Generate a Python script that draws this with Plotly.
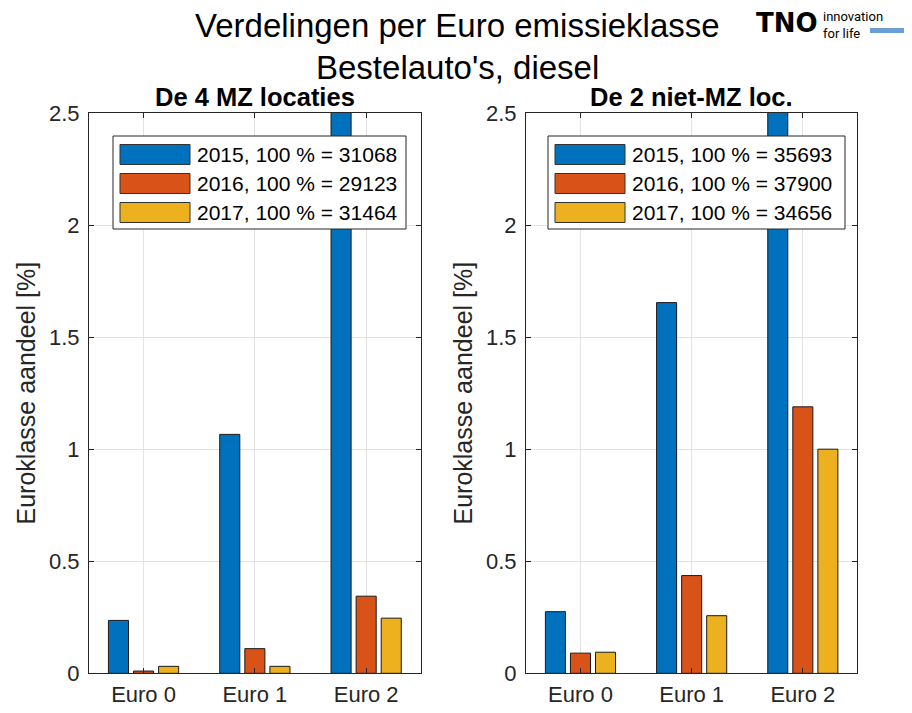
import plotly.graph_objects as go

# Page offset of the plot div (browser default body margin)
OFF = 8
W, H = 912 - OFF, 713 - OFF

categories = ["Euro 0", "Euro 1", "Euro 2"]
years = ["2015", "2016", "2017"]
colors = ["#0072BD", "#D95319", "#EDB120"]

# Panel 1: De 4 MZ locaties
mz_totals = [31068, 29123, 31464]
mz_2015 = [0.236, 1.066, 2.95]
mz_2016 = [0.010, 0.110, 0.344]
mz_2017 = [0.031, 0.031, 0.246]

# Panel 2: De 2 niet-MZ loc.
nmz_totals = [35693, 37900, 34656]
nmz_2015 = [0.275, 1.654, 3.10]
nmz_2016 = [0.090, 0.436, 1.189]
nmz_2017 = [0.094, 0.257, 1.000]

yticks = [0, 0.5, 1, 1.5, 2, 2.5]
ytick_text = ["0", "0.5", "1", "1.5", "2", "2.5"]

FONT = "Liberation Sans, Arial, Helvetica, sans-serif"
TXT = "#262626"

def px(x):
    return (x - OFF) / W

def py(y):
    return 1 - (y - OFF) / H

fig = go.Figure()

panels = [
    ("x", "y", [mz_2015, mz_2016, mz_2017], mz_totals),
    ("x2", "y2", [nmz_2015, nmz_2016, nmz_2017], nmz_totals),
]
for xa, ya, series, totals in panels:
    for yr, vals, col, tot in zip(years, series, colors, totals):
        fig.add_trace(go.Bar(
            x=categories, y=vals, name=f"{yr}, 100 % = {tot}",
            marker=dict(color=col, line=dict(color="#1a1a1a", width=1)),
            xaxis=xa, yaxis=ya, showlegend=False,
        ))

axis_common = dict(
    showline=True, linecolor=TXT, linewidth=1, mirror="allticks",
    ticks="inside", ticklen=5, tickcolor=TXT,
    showgrid=True, gridcolor="#e3e3e3", gridwidth=1,
    zeroline=False, automargin=False,
    tickfont=dict(family=FONT, size=22, color=TXT),
)

xd1 = [px(89), px(420.7)]
xd2 = [px(526), px(857.3)]
yd = [py(673.3), py(113)]

ytitle = dict(text="Euroklasse aandeel [%]", font=dict(family=FONT, size=25, color=TXT), standoff=6)

fig.update_layout(
    width=W, height=H,
    margin=dict(l=0, r=0, t=0, b=0, autoexpand=False),
    paper_bgcolor="white", plot_bgcolor="white",
    barmode="group", bargap=0.324, bargroupgap=0.2,
    font=dict(family=FONT, color=TXT),
    xaxis=dict(domain=xd1, anchor="y", range=[-0.49, 2.49], ticklabelstandoff=1, **axis_common),
    yaxis=dict(domain=yd, anchor="x", range=[0, 2.5], tickvals=yticks, ticktext=ytick_text,
               ticklabelstandoff=4, title=ytitle, **axis_common),
    xaxis2=dict(domain=xd2, anchor="y2", range=[-0.49, 2.49], ticklabelstandoff=1, **axis_common),
    yaxis2=dict(domain=yd, anchor="x2", range=[0, 2.5], tickvals=yticks, ticktext=ytick_text,
                ticklabelstandoff=4, title=ytitle, **axis_common),
)

annotations = []
shapes = []

# Main title
annotations.append(dict(x=px(457), y=py(25), xref="paper", yref="paper", showarrow=False,
                        text="Verdelingen per Euro emissieklasse", xanchor="center", yanchor="middle",
                        font=dict(family=FONT, size=33, color="#000000")))
annotations.append(dict(x=px(457), y=py(67), xref="paper", yref="paper", showarrow=False,
                        text="Bestelauto's, diesel", xanchor="center", yanchor="middle",
                        font=dict(family=FONT, size=33, color="#000000")))
# Subplot titles
annotations.append(dict(x=(xd1[0] + xd1[1]) / 2, y=py(96.5), xref="paper", yref="paper", showarrow=False,
                        text="<b>De 4 MZ locaties</b>", xanchor="center", yanchor="middle",
                        font=dict(family=FONT, size=25.5, color="#000000")))
annotations.append(dict(x=(xd2[0] + xd2[1]) / 2, y=py(96.5), xref="paper", yref="paper", showarrow=False,
                        text="<b>De 2 niet-MZ loc.</b>", xanchor="center", yanchor="middle",
                        font=dict(family=FONT, size=25.5, color="#000000")))

# Custom legends (MATLAB style)
for (bx0, bx1), totals in [((113, 406), mz_totals), ((548, 845), nmz_totals)]:
    shapes.append(dict(type="rect", xref="paper", yref="paper",
                       x0=px(bx0), x1=px(bx1), y0=py(229), y1=py(136),
                       line=dict(color=TXT, width=1), fillcolor="white", layer="above"))
    for i, (yr, col, tot) in enumerate(zip(years, colors, totals)):
        yc = 154.5 + 29 * i
        shapes.append(dict(type="rect", xref="paper", yref="paper",
                           x0=px(bx0 + 7), x1=px(bx0 + 77), y0=py(yc + 10), y1=py(yc - 10),
                           line=dict(color="#333333", width=1), fillcolor=col, layer="above"))
        annotations.append(dict(x=px(bx0 + 82), y=py(yc), xref="paper", yref="paper", showarrow=False,
                                text=f"{yr}, 100 % = {tot}", xanchor="left", yanchor="middle",
                                font=dict(family=FONT, size=21, color="#000000")))

# TNO logo
annotations.append(dict(x=px(787), y=py(23.5), xref="paper", yref="paper", showarrow=False,
                        text="<b>TNO</b>", xanchor="center", yanchor="middle",
                        font=dict(family="DejaVu Sans, Arial Black, sans-serif", size=26, color="#000000")))
annotations.append(dict(x=px(821), y=py(25.5), xref="paper", yref="paper", showarrow=False,
                        text="innovation<br>for life", xanchor="left", yanchor="middle", align="left",
                        font=dict(family="Roboto, " + FONT, size=13, color="#000000")))
shapes.append(dict(type="rect", xref="paper", yref="paper",
                   x0=px(870), x1=px(906), y0=py(33), y1=py(28),
                   line=dict(width=0), fillcolor="#6A9FD4"))

fig.update_layout(annotations=annotations, shapes=shapes)

fig.write_html("out.html")
